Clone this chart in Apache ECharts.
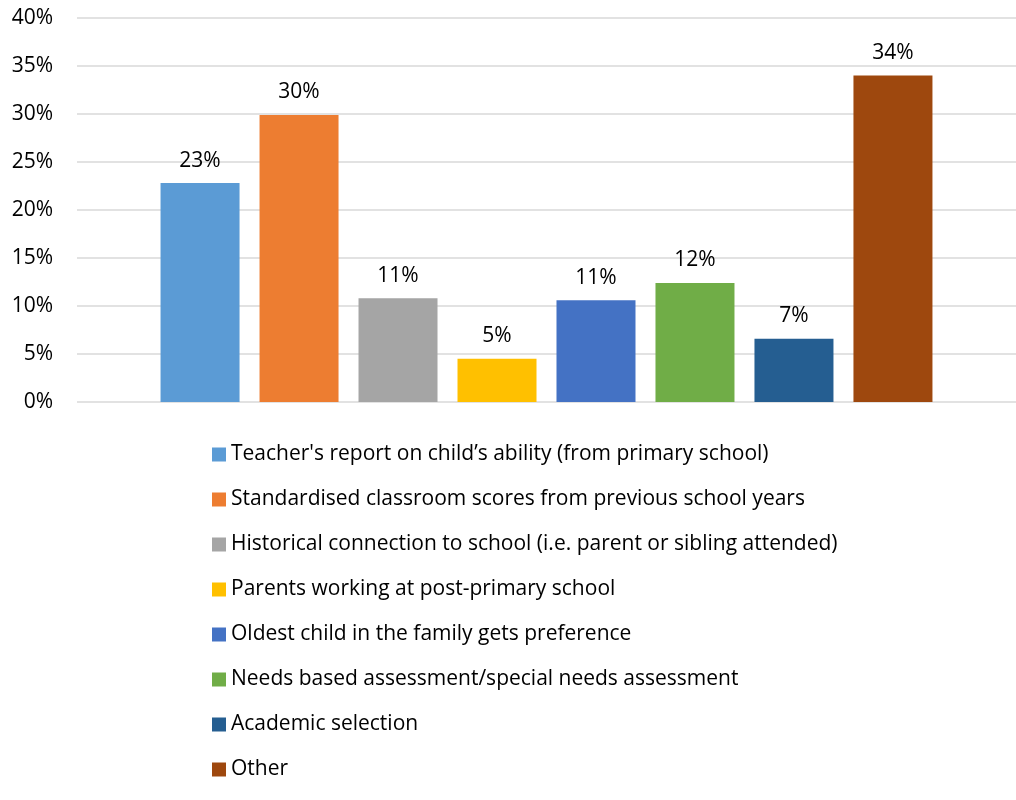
<!DOCTYPE html>
<html>
<head>
<meta charset="utf-8">
<script src="https://cdn.jsdelivr.net/npm/echarts@6/dist/echarts.min.js"></script>
<style>
  html, body { margin: 0; padding: 0; background: #fff; }
  #chart { width: 1016px; height: 800px; }
</style>
</head>
<body>
<div id="chart"></div>
<script>
// values (percent)
var seriesNames = [
  "Teacher's report on child\u2019s ability (from primary school)",
  "Standardised classroom scores from previous school years",
  "Historical connection to school (i.e. parent or sibling attended)",
  "Parents working at post-primary school",
  "Oldest child in the family gets preference",
  "Needs based assessment/special needs assessment",
  "Academic selection",
  "Other"
];
var seriesValues = [22.8, 29.9, 10.8, 4.5, 10.6, 12.4, 6.6, 34.0];
var seriesColors = ["#5B9BD5", "#ED7D31", "#A5A5A5", "#FFC000", "#4472C4", "#70AD47", "#255E91", "#9E480E"];
var categories = [""];

var FONT = "'Open Sans', 'Noto Sans', sans-serif";

var chart = echarts.init(document.getElementById("chart"));

var series = seriesNames.map(function (name, i) {
  return {
    name: name,
    type: "bar",
    barWidth: 79,
    barGap: "25.3%",
    itemStyle: { color: seriesColors[i] },
    label: {
      show: true,
      position: "top",
      distance: 12,
      color: "#000",
      fontFamily: FONT,
      fontSize: 21,
      formatter: function (p) {
        return Math.round(p.value) + "%";
      }
    },
    data: [seriesValues[i]]
  };
});

var option = {
  animation: false,
  backgroundColor: "#fff",
  grid: {
    left: 77,
    top: 18,
    width: 943,
    bottom: 398,
    containLabel: false
  },
  xAxis: {
    type: "category",
    data: categories,
    axisLine: { show: false },
    axisTick: { show: false },
    axisLabel: { show: false }
  },
  yAxis: {
    type: "value",
    min: 0,
    max: 40,
    interval: 5,
    axisLine: { show: false },
    axisTick: { show: false },
    axisLabel: {
      margin: 24,
      color: "#000",
      fontFamily: FONT,
      fontSize: 21,
      formatter: "{value}%"
    },
    splitLine: {
      lineStyle: { color: "#D9D9D9", width: 1.5 }
    }
  },
  legend: {
    orient: "vertical",
    left: 212,
    top: 444,
    padding: 0,
    itemWidth: 14,
    itemHeight: 14,
    itemGap: 24,
    icon: "rect",
    textStyle: {
      color: "#000",
      fontFamily: FONT,
      fontSize: 21,
      lineHeight: 21
    },
    data: seriesNames
  },
  series: series
};

chart.setOption(option);
</script>
</body>
</html>
